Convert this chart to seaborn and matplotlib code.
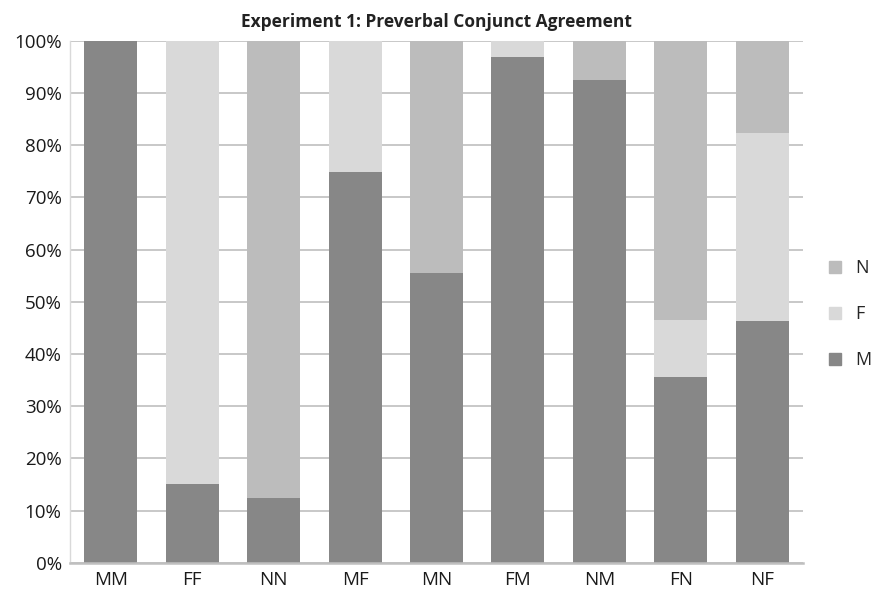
import matplotlib
matplotlib.use("Agg")
import matplotlib.pyplot as plt
import matplotlib.ticker as mticker
from matplotlib.lines import Line2D
import numpy as np
import pandas as pd
import seaborn as sns

# Condition labels and response percentages
conditions = ["MM", "FF", "NN", "MF", "MN", "FM", "NM", "FN", "NF"]
pct_m = [100.0, 15.1, 12.4, 74.8, 55.5, 96.9, 92.5, 35.6, 46.3]
pct_f = [0.0, 84.9, 0.0, 25.2, 0.0, 3.1, 0.0, 11.0, 36.1]
pct_n = [0.0, 0.0, 87.6, 0.0, 44.5, 0.0, 7.5, 53.4, 17.6]

colors = {"M": "#878787", "F": "#d9d9d9", "N": "#bcbcbc"}

df = pd.DataFrame({"cond": conditions, "M": pct_m, "F": pct_f, "N": pct_n})
# cumulative tops so the layers stack when drawn back to front
df["top_M"] = df["M"]
df["top_F"] = df["M"] + df["F"]
df["top_N"] = df["M"] + df["F"] + df["N"]

sns.set_theme(style="white")
plt.rcParams["font.family"] = ["Open Sans", "DejaVu Sans"]

fig = plt.figure(figsize=(8.8, 5.92), dpi=100)
ax = fig.add_axes([0.0795, 0.0495, 0.833, 0.8815])

for resp in ["N", "F", "M"]:
    sns.barplot(data=df, x="cond", y="top_" + resp, order=conditions,
                color=colors[resp], width=0.65, saturation=1, ax=ax,
                linewidth=0, zorder=2)

ax.set_ylim(0, 100)
ax.set_xlim(-0.5, len(conditions) - 0.5)
ax.yaxis.set_major_locator(mticker.MultipleLocator(10))
ax.yaxis.set_major_formatter(mticker.FuncFormatter(lambda v, p: f"{v:.0f}%"))
ax.grid(axis="y", color="#bfbfbf", linewidth=1.2, zorder=0)
ax.set_axisbelow(True)

for side in ["top", "right"]:
    ax.spines[side].set_visible(False)
ax.spines["left"].set_color("#d9d9d9")
ax.spines["left"].set_linewidth(1.0)
ax.spines["bottom"].set_color("#bfbfbf")
ax.spines["bottom"].set_linewidth(1.8)

ax.set_xlabel("")
ax.set_ylabel("")
ax.tick_params(axis="both", length=0, labelsize=13.5, colors="#1a1a1a", pad=6)

ax.set_title("Experiment 1: Preverbal Conjunct Agreement", fontsize=12.5,
             fontweight="bold", color="#222222", pad=10)

handles = [Line2D([0], [0], marker="s", linestyle="", markersize=9,
                  markerfacecolor=colors[r], markeredgecolor=colors[r],
                  label=r) for r in ["N", "F", "M"]]
fig.legend(handles=handles, loc="center left", bbox_to_anchor=(0.933, 0.469),
           frameon=False, fontsize=13, labelspacing=1.55, handletextpad=0.7,
           handlelength=0.8, borderaxespad=0)

fig.savefig("out.png", dpi=100)
